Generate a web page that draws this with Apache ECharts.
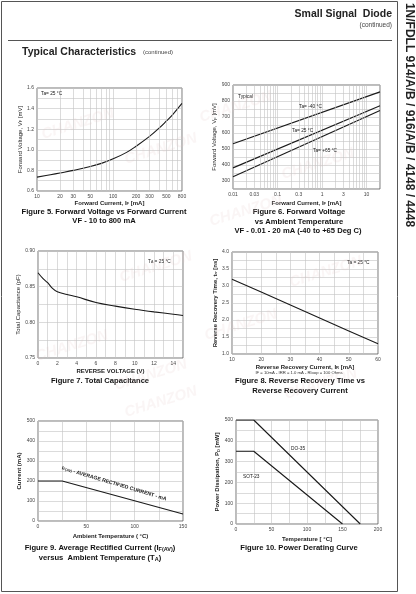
<!DOCTYPE html>
<html>
<head>
<meta charset="utf-8">
<title>Small Signal Diode - Typical Characteristics</title>
<script src="https://cdn.jsdelivr.net/npm/echarts@6/dist/echarts.min.js"></script>
<style>
  html, body { margin: 0; padding: 0; background: #fff; }
  #chart { width: 416px; height: 594px; }
</style>
</head>
<body>
<div id="chart"></div>
<script>
// Figure 5 - forward voltage vs forward current (log x)
const fig5Current = [10, 15, 20, 30, 50, 70, 100, 150, 200, 300, 400, 500, 600, 800]
const fig5Voltage = [0.735, 0.758, 0.775, 0.8, 0.837, 0.868, 0.912, 0.975, 1.035, 1.13, 1.21, 1.28, 1.34, 1.45]
const fig5XTicks = [10, 20, 30, 50, 100, 200, 300, 500, 800]
const fig5XGrid = [20, 30, 40, 50, 60, 70, 80, 90, 200, 300, 400, 500, 600, 700, 800]

// Figure 6 - forward voltage vs ambient temperature (log x)
const fig6Current = [0.01, 20]
const fig6Minus40 = [533, 857]
const fig6Plus25 = [382, 770]
const fig6Plus65 = [327, 740]
const fig6XTicks = [0.01, 0.03, 0.1, 0.3, 1, 3, 10]
const fig6XGrid = [0.02, 0.03, 0.04, 0.05, 0.06, 0.07, 0.08, 0.09,
  0.2, 0.3, 0.4, 0.5, 0.6, 0.7, 0.8, 0.9, 2, 3, 4, 5, 6, 7, 8, 9, 20]

// Figure 7 - total capacitance
const fig7Voltage = [0, 0.5, 1, 1.5, 2, 3, 4, 6, 8, 10, 12, 14, 15]
const fig7Cap = [0.8695, 0.8616, 0.8555, 0.8475, 0.8428, 0.839, 0.8358, 0.8278, 0.8227, 0.8184, 0.8147, 0.8114, 0.8095]

// Figure 8 - reverse recovery time
const fig8Current = [10, 20, 30, 40, 50, 60]
const fig8Time = [3.2, 2.82, 2.44, 2.06, 1.68, 1.3]

// Figure 9 - average rectified current
const fig9Temp = [0, 25, 150]
const fig9Current = [200, 200, 35]

// Figure 10 - power derating
const fig10Temp = [0, 25, 175]
const fig10Do35 = [500, 500, 0]
const fig10SotTemp = [0, 25, 150]
const fig10Sot23 = [350, 350, 0]

const FONT = '"Liberation Sans", Arial, sans-serif'
const INK = '#1a1a1a'
const GRID_COLOR = '#c2c2c2'
const SUB = { fontSize: 4, verticalAlign: 'bottom', padding: [2, 0, 0, 0] }

const zip = (xs, ys) => xs.map((x, i) => [x, ys[i]])
const near = (a, b) => Math.abs(a - b) < 1e-9 * Math.max(1, Math.abs(b))
const isPow10 = v => near(Math.pow(10, Math.round(Math.log10(v))), v)

function every(step, digits) {
  return v => {
    const k = v / step
    return Math.abs(k - Math.round(k)) < 1e-6 ? v.toFixed(digits) : ''
  }
}
const logText = v => String(+v.toPrecision(3))

function axisBase(gridIndex, name, nameGap, bold) {
  return {
    gridIndex,
    axisLine: { show: false },
    axisTick: { show: false },
    splitLine: { show: true, lineStyle: { color: GRID_COLOR, width: 0.6 } },
    axisLabel: { fontSize: 5, color: '#444', margin: 3 },
    name,
    nameLocation: 'middle',
    nameGap,
    nameTextStyle: {
      fontSize: 6, color: '#222', fontWeight: bold ? 'bold' : 'normal',
      rich: { s: Object.assign({ fontWeight: bold ? 'bold' : 'normal' }, SUB) },
    },
  }
}

function valueAxis(gridIndex, min, max, interval, fmt, name, nameGap, bold, isY) {
  const a = axisBase(gridIndex, name, nameGap, bold)
  a.type = 'value'
  a.min = min
  a.max = max
  a.interval = interval
  a.axisLabel.formatter = fmt
  if (isY) a.nameRotate = 90
  return a
}

// decade labels come from the axis, the rest from the grid series below
function logAxis(gridIndex, min, max, ticks, name, nameGap) {
  const a = axisBase(gridIndex, name, nameGap, true)
  a.type = 'log'
  a.logBase = 10
  a.min = min
  a.max = max
  a.axisLabel.formatter = v => (isPow10(v) && ticks.some(t => near(v, t)) ? logText(v) : '')
  return a
}

// extra vertical grid lines (and their labels) for the log axes
function logGridSeries(index, values, ticks) {
  return {
    type: 'line', xAxisIndex: index, yAxisIndex: index, data: [], z: 1, silent: true,
    markLine: {
      silent: true, animation: false, symbol: ['none', 'none'],
      lineStyle: { color: GRID_COLOR, width: 0.6, type: 'solid' },
      label: { position: 'start', distance: 3, fontSize: 5, color: '#444', formatter: p => logText(p.value) },
      data: values.map(v => ({ xAxis: v, label: { show: !isPow10(v) && ticks.some(t => near(v, t)) } })),
    },
  }
}

function curve(index, data, smooth) {
  return {
    type: 'line', xAxisIndex: index, yAxisIndex: index, data, smooth: smooth || false,
    symbol: 'none', silent: true, z: 3,
    lineStyle: { color: INK, width: 1.1 },
  }
}

function txt(x, y, text, o) {
  o = o || {}
  return {
    type: 'text', x, y, rotation: o.rotation || 0, z: 10, silent: true,
    style: {
      text, fill: o.color || '#222', font: (o.weight || 'normal') + ' ' + (o.size || 5) + 'px ' + FONT,
      textAlign: o.align || 'left', textVerticalAlign: 'middle',
      rich: o.rich,
    },
  }
}

const capRich = { s: { fontSize: 5.5, fontWeight: 'bold', verticalAlign: 'bottom', padding: [3, 0, 0, 0] } }
const caption = (x, y, text) => txt(x, y, text, { size: 7.6, weight: 'bold', align: 'center', color: '#111', rich: capRich })
const note = (x, y, text) => txt(x, y, text, { size: 4.8, rich: { s: { fontSize: 3.5, verticalAlign: 'bottom' } } })

const watermarks = [
  [42, 135], [125, 160], [200, 118], [282, 175], [210, 222], [36, 357],
  [120, 278], [115, 386], [205, 336], [290, 283], [285, 395], [125, 413],
]

const graphic = [
  { type: 'rect', silent: true, shape: { x: 1.5, y: 1.5, width: 396, height: 590 }, style: { fill: 'none', stroke: '#555', lineWidth: 1 } },
  { type: 'line', silent: true, shape: { x1: 8, y1: 40.5, x2: 392, y2: 40.5 }, style: { stroke: '#555', lineWidth: 1 } },
  txt(392, 14, 'Small Signal  Diode', { size: 10.5, weight: 'bold', align: 'right', color: '#222' }),
  txt(392, 25, '(continued)', { size: 6.5, align: 'right', color: '#444' }),
  txt(22, 52, 'Typical Characteristics', { size: 10.5, weight: 'bold', color: '#222' }),
  txt(143, 52.5, '(continued)', { size: 6, color: '#444' }),
  txt(409, 115, '1N/FDLL 914/A/B / 916/A/B / 4148 / 4448', { size: 12, weight: 'bold', align: 'center', color: '#222', rotation: -Math.PI / 2 }),

  caption(104, 211.5, 'Figure 5. Forward Voltage vs Forward Current'),
  caption(104, 220.7, 'VF - 10 to 800 mA'),
  caption(299, 211.5, 'Figure 6. Forward Voltage'),
  caption(299, 221.5, 'vs Ambient Temperature'),
  caption(298, 230.5, 'VF - 0.01 - 20 mA (-40 to +65 Deg C)'),
  caption(100, 381, 'Figure 7. Total Capacitance'),
  caption(300, 381, 'Figure 8. Reverse Recovery Time vs'),
  caption(300, 390.5, 'Reverse Recovery Current'),
  caption(100, 548.3, 'Figure 9. Average Rectified Current (I{s|F(AV)})'),
  caption(100, 557.5, 'versus  Ambient Temperature (T{s|A})'),
  caption(299, 547.7, 'Figure 10. Power Derating Curve'),

  note(41, 94, 'Ta= 25 °C'),
  note(238, 97, 'Typical'),
  note(299, 107, 'Ta= -40 °C'),
  note(292, 131, 'Ta= 25 °C'),
  note(313, 151, 'Ta= +65 °C'),
  note(148, 262, 'T{s|A} = 25 °C'),
  note(347, 263, 'Ta = 25 °C'),
  txt(299, 372.7, 'IF = 10mA - IRR = 1.0 mA - Rloop = 100 Ohms', { size: 4.2, align: 'center', color: '#333' }),
  txt(62, 468, 'I{s|F(AV)} - AVERAGE RECTIFIED CURRENT - mA', {
    size: 5.2, weight: 'bold', rotation: -0.29, color: '#222',
    rich: { s: { fontSize: 3.5, fontWeight: 'bold', verticalAlign: 'bottom' } },
  }),
  note(291, 449, 'DO-35'),
  note(243, 477, 'SOT-23'),
]

watermarks.forEach(([x, y]) => {
  graphic.push(txt(x, y, 'CHANZON', { size: 15, weight: 'bold italic', rotation: 0.3, color: 'rgba(225,195,195,0.16)' }))
})

const options = {
  animation: false,
  textStyle: { fontFamily: FONT },
  grid: [
    { left: 37, top: 88, width: 145, height: 103 },
    { left: 233, top: 85, width: 147, height: 104 },
    { left: 38, top: 251, width: 145, height: 107 },
    { left: 232, top: 252, width: 146, height: 102 },
    { left: 38, top: 421, width: 145, height: 100 },
    { left: 236, top: 420, width: 142, height: 104 },
  ].map(g => Object.assign({ show: true, borderColor: '#555', borderWidth: 0.8, containLabel: false }, g)),
  xAxis: [
    logAxis(0, 10, 800, fig5XTicks, 'Forward Current, I{s|F} [mA]', 9),
    logAxis(1, 0.01, 20, fig6XTicks, 'Forward Current, I{s|F} [mA]', 11),
    valueAxis(2, 0, 15, 1, every(2, 0), 'REVERSE VOLTAGE (V)', 10, true),
    valueAxis(3, 10, 60, 5, every(10, 0), 'Reverse Recovery Current, I{s|R} [mA]', 10, true),
    valueAxis(4, 0, 150, 25, every(50, 0), 'Ambient Temperature ( °C)', 12, true),
    valueAxis(5, 0, 200, 25, every(50, 0), 'Temperature [ °C]', 12.5, true),
  ],
  yAxis: [
    valueAxis(0, 0.6, 1.6, 0.1, every(0.2, 1), 'Forward Voltage, V{s|F} [mV]', 11, false, true),
    valueAxis(1, 250, 900, 50, every(100, 0), 'Forward Voltage, V{s|F} [mV]', 9, false, true),
    valueAxis(2, 0.75, 0.9, 0.025, every(0.05, 2), 'Total Capacitance (pF)', 12, false, true),
    valueAxis(3, 1, 4, 0.25, every(0.5, 1), 'Reverse Recovery Time, t{s|rr} [ns]', 11, true, true),
    valueAxis(4, 0, 500, 50, every(100, 0), 'Current (mA)', 12, true, true),
    valueAxis(5, 0, 500, 50, every(100, 0), 'Power Dissipation, P{s|D} [mW]', 13, true, true),
  ],
  series: [
    logGridSeries(0, fig5XGrid, fig5XTicks),
    curve(0, zip(fig5Current, fig5Voltage), 0.4),
    logGridSeries(1, fig6XGrid, fig6XTicks),
    curve(1, zip(fig6Current, fig6Minus40)),
    curve(1, zip(fig6Current, fig6Plus25)),
    curve(1, zip(fig6Current, fig6Plus65)),
    curve(2, zip(fig7Voltage, fig7Cap), 0.4),
    curve(3, zip(fig8Current, fig8Time)),
    curve(4, zip(fig9Temp, fig9Current)),
    curve(5, zip(fig10Temp, fig10Do35)),
    curve(5, zip(fig10SotTemp, fig10Sot23)),
  ],
  graphic,
}

const chart = echarts.init(document.getElementById('chart'))
chart.setOption(options)
</script>
</body>
</html>
